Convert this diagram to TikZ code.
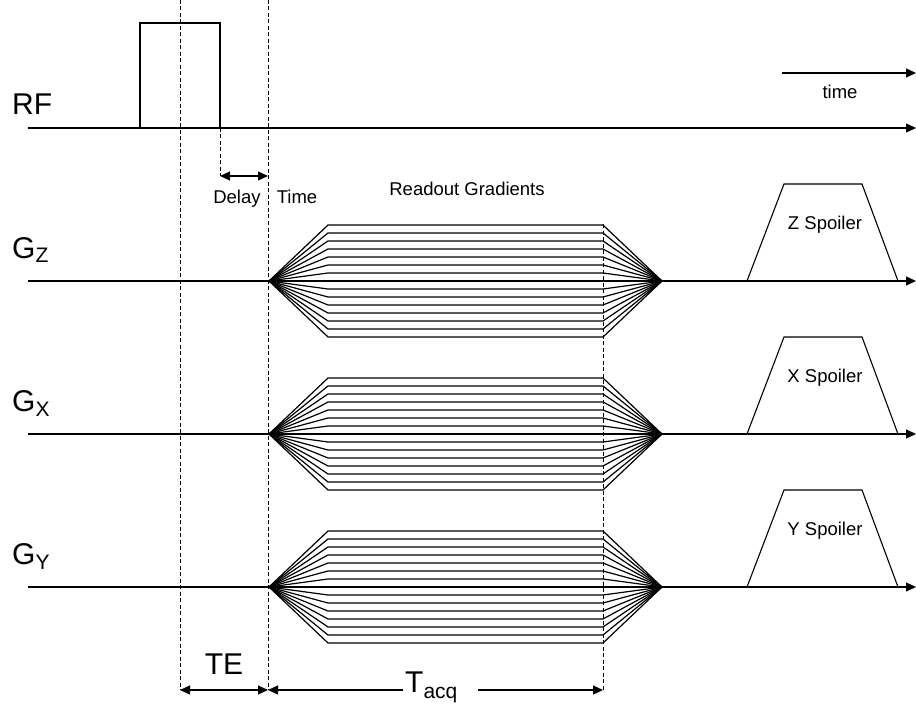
\documentclass[tikz,border=0pt]{standalone}
\usepackage{fontspec}
\setmainfont{Liberation Sans}
\usepackage{tikz}
\usetikzlibrary{arrows.meta, positioning, calc}

\newcommand{\lowsub}[2]{\raisebox{-#1}{\fontsize{21}{21}\selectfont #2}}

\begin{document}
\begin{tikzpicture}[
    x=1pt, y=-1pt,
    axisline/.style={-{Triangle[length=10pt,width=9pt]}, line width=1.1pt},
    pulseline/.style={line width=1.1pt},
    gradline/.style={line width=1.2pt, line join=miter},
    guideline/.style={line width=0.9pt, dash pattern=on 4pt off 2.5pt},
    dimarrow/.style={{Triangle[length=10pt,width=9pt]}-{Triangle[length=10pt,width=9pt]}, line width=1.1pt},
    halfarrow/.style={-{Triangle[length=10pt,width=9pt]}, line width=1.1pt},
    biglabel/.style={inner sep=0pt, anchor=base west, font=\fontsize{30}{30}\selectfont},
    smalllabel/.style={inner sep=0pt, anchor=base, font=\fontsize{18.5}{18.5}\selectfont},
]
\useasboundingbox (0,0) rectangle (916,706);

\foreach \row/\yy in {rf/128, gz/281, gx/434, gy/587}{
  \coordinate (\row-start) at (28,\yy);
  \coordinate (\row-end) at (916,\yy);
  \draw[axisline] (\row-start) -- (\row-end);
}

\node[biglabel] (rf-label) at (12,115) {RF};
\node[biglabel] (gz-label) at (12,258) {G\lowsub{5pt}{Z}};
\node[biglabel] (gx-label) at (12,411) {G\lowsub{5pt}{X}};
\node[biglabel] (gy-label) at (12,564) {G\lowsub{5pt}{Y}};

\coordinate (time-start) at (782,73);
\coordinate (time-end) at (916,73);
\draw[axisline] (time-start) -- (time-end);
\node[smalllabel] (time-label) at (840,99) {time};

\coordinate (rf-on) at (140,128);
\coordinate (rf-off) at (220,128);
\draw[pulseline] (rf-on) -- ++(0,-105) -| (rf-off);

\coordinate (mid-top) at (180,0);
\coordinate (echo-top) at (268,0);
\coordinate (acq-top) at (603,224);
\coordinate (te-left) at (180,690);
\coordinate (te-right) at (268,690);
\coordinate (acq-end) at (603,690);
\draw[guideline] (mid-top) -- (te-left);
\draw[guideline] (echo-top) -- (te-right);
\draw[guideline] (acq-top) -- (acq-end);

\coordinate (delay-start) at (220,176);
\coordinate (delay-end) at (268,176);
\draw[guideline] (rf-off) -- (delay-start);
\draw[dimarrow] (delay-start) -- (delay-end);
\node[smalllabel] (delay-label) at (237,204) {Delay};
\node[smalllabel] (time2-label) at (297,204) {Time};

\node[smalllabel] (readout-label) at (467,196) {Readout Gradients};

\foreach \row/\yy in {gz/281, gx/434, gy/587}{
  \foreach \k in {1,...,7}{
    \draw[gradline] (269,\yy) -- (328,\yy-8*\k) -- (603,\yy-8*\k) -- (662,\yy);
    \draw[gradline] (269,\yy) -- (328,\yy+8*\k) -- (603,\yy+8*\k) -- (662,\yy);
  }
}

\foreach \row/\yy/\ax in {gz/281/Z, gx/434/X, gy/587/Y}{
  \draw[pulseline] (747,\yy) -- (784,\yy-97) -- (862,\yy-97) -- (898,\yy);
  \node[smalllabel] (\row-spoiler) at (825,\yy-52) {\ax\ Spoiler};
}

\draw[dimarrow] (te-left) -- (te-right);
\node[biglabel, anchor=base] (te-label) at (224,674) {TE};

\coordinate (tacq-left) at (403,690);
\coordinate (tacq-right) at (478,690);
\draw[halfarrow] (tacq-left) -- (te-right);
\draw[halfarrow] (tacq-right) -- (acq-end);
\node[biglabel] (tacq-label) at (405,692) {T\lowsub{6pt}{acq}};
\end{tikzpicture}
\end{document}
